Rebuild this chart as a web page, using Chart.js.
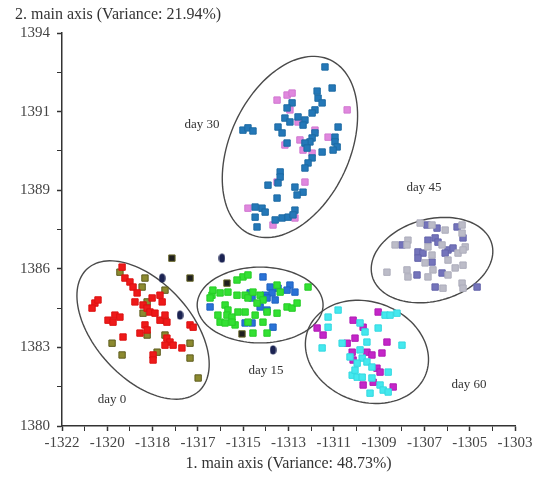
<!DOCTYPE html>
<html>
<head>
<meta charset="utf-8">
<script src="https://cdn.jsdelivr.net/npm/chart.js@4.4.1/dist/chart.umd.min.js"></script>
<style>
  html, body { margin: 0; padding: 0; background: #fff; }
  #wrap { position: relative; width: 546px; height: 479px; }
</style>
</head>
<body>
<div id="wrap"><canvas id="pca"></canvas></div>
<script>
// axis ranges and tick labels (labels as printed in the figure)
const xMin = -1322, xMax = -1303;
const yMin = 1380, yMax = 1394;
const xTickLabels = ["-1322", "-1320", "-1318", "-1317", "-1315", "-1313", "-1311", "-1309", "-1307", "-1305", "-1303"];
const yTickLabels = ["1380", "1383", "1386", "1389", "1391", "1394"];

// day 30
const day30Blue = [
  [-1310.97, 1392.79], [-1310.67, 1392.04], [-1311.30, 1391.93], [-1311.26, 1391.68], [-1311.09, 1391.51],
  [-1312.35, 1391.51], [-1312.56, 1391.33], [-1311.39, 1391.26], [-1311.51, 1391.15], [-1312.10, 1391.01],
  [-1312.65, 1390.97], [-1312.44, 1390.83], [-1311.81, 1390.90], [-1311.89, 1390.72], [-1310.42, 1390.65],
  [-1312.94, 1390.65], [-1314.41, 1390.54], [-1314.20, 1390.62], [-1313.99, 1390.51], [-1312.77, 1390.44],
  [-1311.39, 1390.44], [-1310.55, 1390.29], [-1311.51, 1390.26], [-1311.60, 1390.12], [-1310.55, 1390.12],
  [-1310.46, 1389.94], [-1311.81, 1390.08], [-1312.56, 1390.08], [-1310.63, 1389.83], [-1311.09, 1389.76],
  [-1311.72, 1389.90], [-1311.51, 1389.55], [-1311.68, 1389.37], [-1311.81, 1389.19], [-1312.85, 1389.05],
  [-1312.85, 1388.87], [-1313.36, 1388.58], [-1312.94, 1388.66], [-1312.23, 1388.51], [-1311.89, 1388.33],
  [-1312.98, 1388.12], [-1312.14, 1388.23], [-1313.90, 1387.80], [-1313.61, 1387.76], [-1313.48, 1387.62],
  [-1313.90, 1387.44], [-1312.23, 1387.69], [-1312.77, 1387.41], [-1312.52, 1387.44], [-1312.31, 1387.52],
  [-1313.82, 1387.09], [-1313.06, 1387.34]
];
const day30Pink = [
  [-1312.98, 1391.61], [-1312.56, 1391.79], [-1312.35, 1391.86], [-1312.44, 1391.26], [-1310.04, 1391.26],
  [-1312.10, 1390.83], [-1311.39, 1390.54], [-1312.65, 1390.01], [-1310.84, 1390.29], [-1311.89, 1389.83],
  [-1311.51, 1389.72], [-1311.81, 1388.69], [-1312.98, 1388.69], [-1314.20, 1387.76], [-1312.23, 1387.41],
  [-1313.15, 1387.16], [-1312.02, 1390.19]
];

// day 45
const day45Gray = [
  [-1306.98, 1387.23], [-1306.48, 1387.16], [-1305.93, 1386.98], [-1305.22, 1387.16], [-1305.22, 1386.87],
  [-1307.49, 1386.62], [-1307.53, 1386.45], [-1308.03, 1386.45], [-1306.65, 1386.38], [-1306.06, 1386.45],
  [-1305.09, 1386.38], [-1305.39, 1386.16], [-1305.18, 1386.27], [-1306.48, 1386.09], [-1305.81, 1385.91],
  [-1306.77, 1385.81], [-1308.37, 1385.48], [-1307.53, 1385.56], [-1307.49, 1385.31], [-1305.51, 1385.63],
  [-1305.18, 1385.73], [-1305.81, 1385.38], [-1306.65, 1385.31], [-1305.22, 1385.09], [-1305.18, 1384.91],
  [-1306.02, 1384.91], [-1306.44, 1385.56]
];
const day45Violet = [
  [-1306.69, 1387.16], [-1306.27, 1387.05], [-1305.43, 1387.09], [-1306.35, 1386.70], [-1306.23, 1386.55],
  [-1305.18, 1386.70], [-1307.07, 1386.20], [-1306.86, 1386.16], [-1305.81, 1386.27], [-1305.60, 1386.34],
  [-1305.93, 1386.16], [-1307.74, 1386.45], [-1307.07, 1385.98], [-1306.48, 1385.84], [-1306.06, 1385.45],
  [-1307.11, 1385.38], [-1306.35, 1384.95], [-1304.59, 1384.95], [-1306.65, 1386.62]
];

// day 0
const day0Red = [
  [-1319.48, 1385.66], [-1319.36, 1385.27], [-1319.15, 1385.13], [-1319.02, 1384.95], [-1318.85, 1384.74],
  [-1320.62, 1384.38], [-1320.49, 1384.49], [-1320.74, 1384.20], [-1319.78, 1383.95], [-1319.57, 1383.88],
  [-1320.07, 1383.77], [-1319.86, 1383.70], [-1318.60, 1384.31], [-1318.43, 1384.20], [-1318.31, 1384.06],
  [-1318.10, 1384.02], [-1317.89, 1384.66], [-1317.80, 1384.42], [-1317.60, 1383.70], [-1317.89, 1383.77],
  [-1317.68, 1383.95], [-1318.52, 1383.60], [-1318.73, 1383.31], [-1318.43, 1383.42], [-1316.63, 1383.60],
  [-1316.50, 1383.52], [-1317.60, 1383.13], [-1317.47, 1382.99], [-1317.34, 1382.88], [-1316.97, 1382.78],
  [-1317.68, 1382.88], [-1319.44, 1383.17], [-1318.18, 1382.53], [-1318.18, 1382.35], [-1318.22, 1384.56],
  [-1318.94, 1384.42]
];
const day0Olive = [
  [-1319.57, 1385.48], [-1318.52, 1385.27], [-1318.64, 1384.95], [-1317.68, 1384.84], [-1318.43, 1384.42],
  [-1318.60, 1384.02], [-1317.68, 1383.77], [-1317.68, 1383.24], [-1318.43, 1383.24], [-1319.90, 1382.95],
  [-1319.48, 1382.53], [-1316.63, 1382.95], [-1316.63, 1382.42], [-1316.29, 1381.71], [-1318.01, 1382.63]
];

// day 15
const day15Green = [
  [-1314.41, 1385.31], [-1314.20, 1385.38], [-1314.66, 1385.20], [-1315.71, 1384.66], [-1315.67, 1384.84],
  [-1315.37, 1384.74], [-1315.04, 1384.77], [-1314.66, 1384.66], [-1315.79, 1384.56], [-1314.32, 1384.66],
  [-1314.20, 1384.56], [-1313.99, 1384.77], [-1313.69, 1384.66], [-1313.57, 1384.49], [-1313.82, 1384.38],
  [-1312.98, 1385.02], [-1311.68, 1384.95], [-1312.85, 1384.77], [-1315.16, 1384.31], [-1315.04, 1384.13],
  [-1315.08, 1383.95], [-1315.46, 1383.95], [-1314.87, 1383.88], [-1315.37, 1383.70], [-1315.16, 1383.67],
  [-1314.62, 1384.06], [-1314.32, 1384.06], [-1313.40, 1384.06], [-1313.90, 1383.95], [-1313.57, 1383.70],
  [-1312.56, 1384.24], [-1312.35, 1384.20], [-1312.14, 1384.38], [-1312.98, 1384.02], [-1314.74, 1383.60],
  [-1314.20, 1383.70], [-1313.99, 1383.31], [-1313.40, 1383.31], [-1314.87, 1383.70]
];
const day15Blue = [
  [-1313.57, 1385.31], [-1313.27, 1384.95], [-1312.94, 1384.91], [-1312.44, 1385.02], [-1312.23, 1384.77],
  [-1312.56, 1384.84], [-1313.19, 1384.74], [-1313.48, 1384.66], [-1313.40, 1384.56], [-1313.06, 1384.49],
  [-1314.11, 1384.74], [-1314.03, 1384.56], [-1313.69, 1384.24], [-1313.40, 1384.13], [-1315.79, 1384.24],
  [-1314.32, 1383.67], [-1314.03, 1383.67], [-1313.15, 1383.52]
];

// day 60
const day60Cyan = [
  [-1310.42, 1384.13], [-1310.84, 1383.88], [-1308.45, 1383.95], [-1308.24, 1383.95], [-1307.95, 1384.02],
  [-1309.50, 1383.67], [-1309.29, 1383.35], [-1308.74, 1383.49], [-1310.84, 1383.52], [-1311.09, 1382.78],
  [-1310.25, 1382.95], [-1309.21, 1382.99], [-1309.50, 1382.71], [-1307.74, 1382.88], [-1309.92, 1382.46],
  [-1309.41, 1382.42], [-1309.21, 1382.28], [-1309.62, 1382.24], [-1309.00, 1382.10], [-1309.83, 1381.81],
  [-1309.62, 1381.74], [-1309.41, 1381.74], [-1309.00, 1381.71], [-1308.32, 1381.92], [-1308.66, 1381.46],
  [-1308.53, 1381.28], [-1308.32, 1381.21], [-1309.08, 1381.17], [-1309.71, 1381.99]
];
const day60Magenta = [
  [-1308.74, 1384.06], [-1309.79, 1383.77], [-1309.37, 1383.52], [-1311.30, 1383.49], [-1311.05, 1383.24],
  [-1309.71, 1383.13], [-1310.04, 1382.95], [-1308.37, 1382.99], [-1309.83, 1382.63], [-1309.21, 1382.63],
  [-1309.00, 1382.53], [-1308.58, 1382.60], [-1309.79, 1382.35], [-1308.79, 1382.06], [-1308.66, 1381.92],
  [-1308.95, 1381.56], [-1309.37, 1381.46], [-1308.11, 1381.39]
];

// unassigned samples (black markers)
const blackSquares = [[-1317.39, 1385.98], [-1316.63, 1385.27], [-1315.08, 1385.09], [-1314.45, 1383.28]];
const navyOvals = [[-1317.80, 1385.27], [-1317.05, 1383.95], [-1315.29, 1385.98], [-1313.15, 1382.71]];

// group ellipses in data units: centre + two semi-axis vectors
const groupEllipses = [
  { cx: -1312.44, cy: 1389.94, ux: 1.69, uy: 3.10, vx: 2.28, vy: -0.90 },   // day 30
  { cx: -1306.48, cy: 1385.91, ux: 2.51, uy: 0.57, vx: 0.45, vy: -1.41 },   // day 45
  { cx: -1318.60, cy: 1383.42, ux: 2.34, uy: -2.18, vx: 1.49, vy: 1.15 },   // day 0
  { cx: -1313.69, cy: 1384.31, ux: 2.64, uy: 0, vx: 0, vy: -1.35 },         // day 15
  { cx: -1309.21, cy: 1382.64, ux: 2.48, uy: -0.77, vx: -0.72, vy: -1.67 }  // day 60
];
const groupLabels = [
  { text: "day 30", x: -1316.13, y: 1390.72 },
  { text: "day 45", x: -1306.82, y: 1388.48 },
  { text: "day 0", x: -1319.90, y: 1380.93 },
  { text: "day 15", x: -1313.44, y: 1381.96 },
  { text: "day 60", x: -1304.93, y: 1381.46 }
];

const toPts = arr => arr.map(p => ({ x: p[0], y: p[1] }));
const serif = "'Liberation Serif', 'DejaVu Serif', serif";

// small vertical oval for the navy markers
const oval = document.createElement("canvas");
oval.width = 7; oval.height = 10;
(function () {
  const c = oval.getContext("2d");
  c.fillStyle = "#1b2352";
  c.beginPath();
  c.ellipse(3.5, 5, 3.2, 4.6, 0, 0, Math.PI * 2);
  c.fill();
})();

function sq(label, pts, fill, border) {
  return {
    label: label,
    data: toPts(pts),
    pointStyle: "rect",
    pointRadius: 4.5,
    pointHoverRadius: 4.5,
    backgroundColor: fill,
    borderColor: border,
    borderWidth: 1
  };
}

const ellipsePlugin = {
  id: "groupEllipses",
  beforeDatasetsDraw(chart) {
    const xs = chart.scales.x, ys = chart.scales.y, ctx = chart.ctx;
    ctx.save();
    ctx.strokeStyle = "#4a4a4a";
    ctx.lineWidth = 1.4;
    groupEllipses.forEach(e => {
      ctx.beginPath();
      for (let i = 0; i <= 120; i++) {
        const t = i / 120 * Math.PI * 2;
        const px = xs.getPixelForValue(e.cx + e.ux * Math.cos(t) + e.vx * Math.sin(t));
        const py = ys.getPixelForValue(e.cy + e.uy * Math.cos(t) + e.vy * Math.sin(t));
        if (i === 0) ctx.moveTo(px, py); else ctx.lineTo(px, py);
      }
      ctx.closePath();
      ctx.stroke();
    });
    ctx.fillStyle = "#333";
    ctx.font = "13px " + serif;
    ctx.textAlign = "center";
    ctx.textBaseline = "middle";
    groupLabels.forEach(l => {
      ctx.fillText(l.text, xs.getPixelForValue(l.x), ys.getPixelForValue(l.y));
    });
    ctx.restore();
  },
  afterDraw(chart) {
    // y axis title sits horizontally above the axis
    const ctx = chart.ctx;
    ctx.save();
    ctx.fillStyle = "#333";
    ctx.font = "16px " + serif;
    ctx.textAlign = "left";
    ctx.textBaseline = "middle";
    ctx.fillText("2. main axis (Variance: 21.94%)", 15, 15);
    ctx.restore();
  }
};

new Chart(document.getElementById("pca"), {
  type: "scatter",
  plugins: [ellipsePlugin],
  data: {
    datasets: [
      sq("day 30", day30Blue, "#2478b8", "#1d6aa3"),
      sq("day 30b", day30Pink, "#e088de", "#d077d0"),
      sq("day 45", day45Gray, "#bcbcc8", "#adadbb"),
      sq("day 45b", day45Violet, "#7474bb", "#6464aa"),
      sq("day 0", day0Red, "#ee1a1a", "#dd1111"),
      sq("day 0b", day0Olive, "#8c8a30", "#5e5c1e"),
      sq("day 15", day15Green, "#33e033", "#25cc25"),
      sq("day 15b", day15Blue, "#2a72d6", "#1f62c0"),
      sq("day 60", day60Cyan, "#45e8ee", "#33d8e0"),
      sq("day 60b", day60Magenta, "#c426c8", "#b01bb4"),
      sq("other", blackSquares, "#1e1e1e", "#6b6a2c"),
      {
        label: "other b",
        data: toPts(navyOvals),
        pointStyle: oval,
        pointRadius: 5
      }
    ]
  },
  options: {
    responsive: true,
    maintainAspectRatio: false,
    animation: false,
    events: [],
    layout: { padding: { left: 0, right: 31, top: 33, bottom: 3 } },
    plugins: {
      legend: { display: false },
      tooltip: { enabled: false }
    },
    scales: {
      x: {
        type: "linear",
        min: xMin,
        max: xMax,
        afterBuildTicks: s => {
          s.ticks = [];
          for (let i = 0; i <= 20; i++) s.ticks.push({ value: xMin + i * (xMax - xMin) / 20 });
        },
        afterFit: s => { s.height = 50; },
        ticks: {
          autoSkip: false,
          maxRotation: 0,
          padding: 3,
          color: "#444",
          font: { family: serif, size: 15 },
          callback: (v, i) => (i % 2 === 0 ? xTickLabels[i / 2] : "")
        },
        grid: { drawOnChartArea: false, drawTicks: true, tickLength: 5, tickColor: "#333", tickWidth: c => (c.index % 2 ? 1 : 1.5) },
        border: { display: true, color: "#333", width: 1.5 },
        title: {
          display: true,
          text: "1. main axis (Variance: 48.73%)",
          color: "#333",
          font: { family: serif, size: 16 },
          padding: { top: 0, bottom: 3 }
        }
      },
      y: {
        type: "linear",
        min: yMin,
        max: yMax,
        afterBuildTicks: s => {
          s.ticks = [];
          for (let i = 0; i <= 10; i++) s.ticks.push({ value: yMin + i * (yMax - yMin) / 10 });
        },
        afterFit: s => { s.width = 62; },
        ticks: {
          autoSkip: false,
          padding: 7,
          color: "#444",
          font: { family: serif, size: 15 },
          callback: (v, i) => (i % 2 === 0 ? yTickLabels[i / 2] : "")
        },
        grid: { drawOnChartArea: false, drawTicks: true, tickLength: 5, tickColor: "#333", tickWidth: c => (c.index % 2 ? 1 : 1.5) },
        border: { display: true, color: "#333", width: 1.5 }
      }
    }
  }
});
</script>
</body>
</html>
